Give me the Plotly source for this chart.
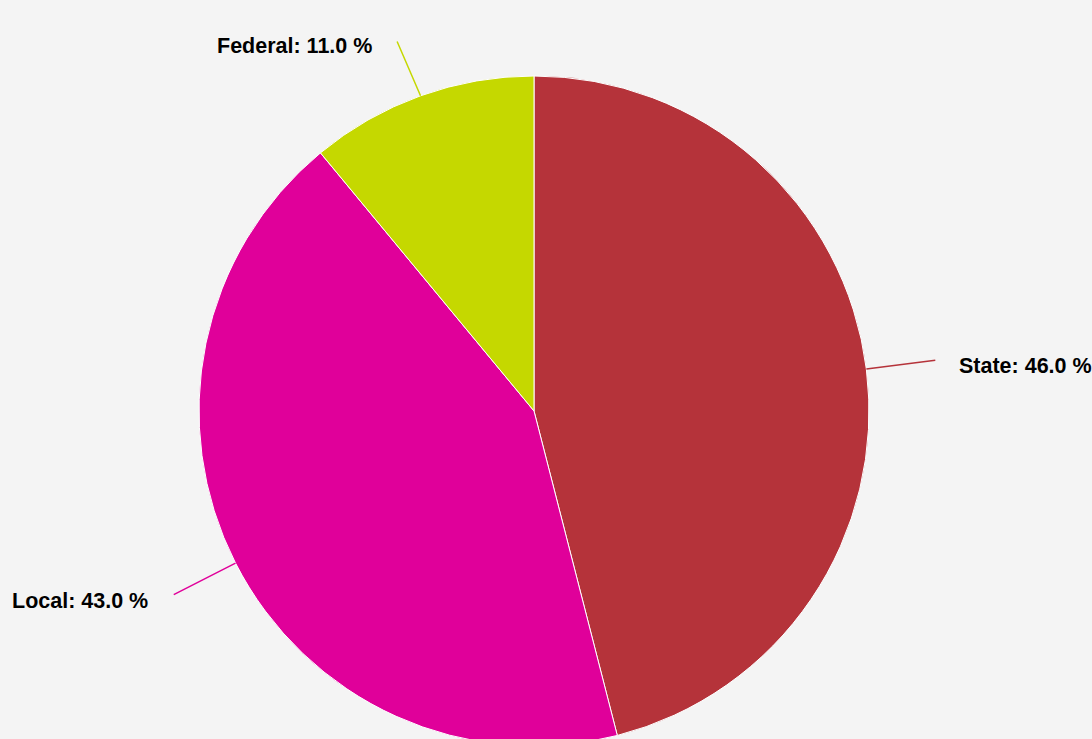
import numpy as np
import plotly.graph_objects as go

# ---- data ----
labels = ["State", "Local", "Federal"]
values = [46.0, 43.0, 11.0]
colors = ["#b5333a", "#e0009a", "#c5d800"]

# ---- layout geometry (pixels) ----
W, H = 1092, 760          # figure slightly taller than window so pie bottom is clipped
CX, CY, R = 534, 411, 335  # pie centre and radius in pixels
LABEL_DIST = 71            # connector length beyond pie edge
TOP_PAD = 40

def px_to_paper(px, py):
    return px / W, (H - py) / H

x0, y0 = px_to_paper(CX - R, CY + R)
x1, y1 = px_to_paper(CX + R, CY - R)

fig = go.Figure(go.Pie(
    labels=labels,
    values=values,
    sort=False,
    direction="clockwise",
    rotation=0,
    marker=dict(colors=colors, line=dict(color="#ffffff", width=1)),
    textinfo="none",
    hoverinfo="label+percent",
    showlegend=False,
    domain=dict(x=[x0, x1], y=[y0, y1]),
))

# connectors and labels derived from the slice angles
vals = np.array(values)
total = vals.sum()
cum = np.cumsum(vals) - vals / 2
mid_angles = cum / total * 2 * np.pi  # clockwise from 12 o'clock

annotations = []
for lab, v, col, a in zip(labels, vals, colors, mid_angles):
    dx, dy = np.sin(a), -np.cos(a)
    hx, hy = CX + R * dx, CY + R * dy
    tx, ty = CX + (R + LABEL_DIST) * dx, CY + (R + LABEL_DIST) * dy
    ty = max(ty, TOP_PAD)
    hxp, hyp = px_to_paper(hx, hy)
    annotations.append(dict(
        x=hxp, y=hyp, xref="paper", yref="paper", text="",
        showarrow=True, arrowhead=0, arrowwidth=1.5, arrowcolor=col,
        ax=tx - hx, ay=ty - hy, standoff=0, startstandoff=0,
    ))
    right = dx >= 0
    lx, ly = px_to_paper(tx + (20 if right else -22), ty + 6)
    annotations.append(dict(
        x=lx, y=ly, xref="paper", yref="paper",
        text=f"<b>{lab}: {v / total * 100:.1f} %</b>",
        showarrow=False, xanchor="left" if right else "right", yanchor="middle",
        font=dict(family="Liberation Sans, Arial, sans-serif", size=21.5, color="#000000",
                  shadow="0px 0px 1px #ffffff"),
    ))

fig.update_layout(
    width=W, height=H,
    margin=dict(l=0, r=0, t=0, b=0),
    paper_bgcolor="#f4f4f4",
    plot_bgcolor="#f4f4f4",
    annotations=annotations,
)

post = ("document.body.style.margin='0';"
        "document.body.style.overflow='hidden';"
        "document.documentElement.style.overflow='hidden';")
fig.write_html("out.html", post_script=post, config={"displayModeBar": False})
